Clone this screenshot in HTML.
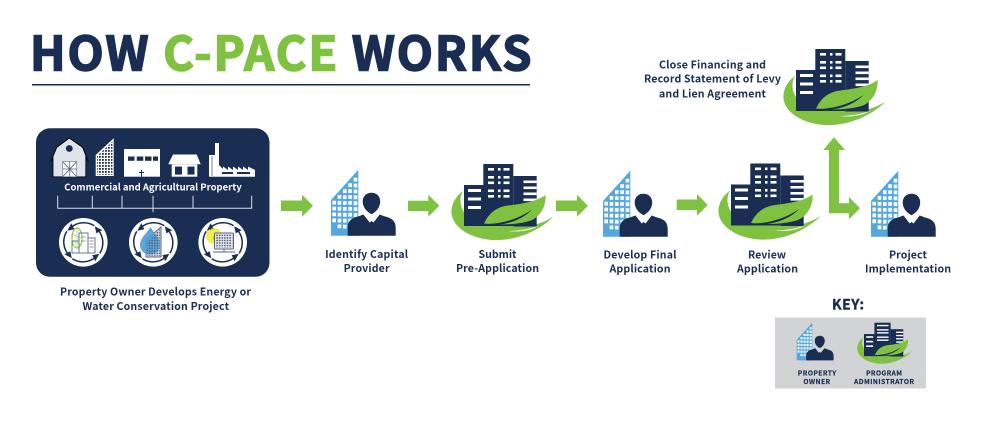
<!DOCTYPE html>
<html lang="en">
<head>
<meta charset="utf-8">
<title>How C-PACE Works</title>
<style>
html,body{margin:0;padding:0;background:#fff;width:993px;height:432px;overflow:hidden}
svg{display:block}
text{font-family:"Noto Sans CJK JP","Liberation Sans",sans-serif;font-weight:700;fill:#1a2d52;text-anchor:middle}
</style>
</head>
<body>
<svg width="993" height="432" viewBox="0 0 993 432" xmlns="http://www.w3.org/2000/svg">
<defs>
  <pattern id="sky" x="96" y="138" width="3" height="3" patternUnits="userSpaceOnUse">
    <rect width="1.8" height="1.8" fill="#1a2d52"/>
  </pattern>
  <pattern id="panel" x="0" y="0" width="2.6" height="2.6" patternUnits="userSpaceOnUse">
    <circle cx="1.3" cy="1.3" r="0.9" fill="#59657f"/>
  </pattern>

  <g id="owner">
    <polygon points="331,200 358.3,169.7 358.3,235.7 331,235.7" fill="#55a7de"/>
    <g fill="none" stroke="#fff" stroke-width="3.6" stroke-dasharray="3.8 2.1">
      <path d="M334.2,200.7 V223"/>
      <path d="M339.5,195 V229"/>
      <path d="M344.8,189.3 V229"/>
      <path d="M350.1,183.3 V229"/>
      <path d="M355.5,177.7 V229"/>
    </g>
    <path d="M347.7,235.7 V228 C347.7,220.5 352,218 358,216.5 L363.5,214.5 L369.7,222.5 L371.6,221 L373.5,222.5 L379.7,214.5 L385,216.5 C391.5,218 395.7,220.5 395.7,228 V235.7Z" fill="#1a2d52"/>
    <path d="M371.5,214.2 C366,211.5 362.7,206.5 362.7,201.5 C362.7,196 366.5,192.7 371.5,192.7 C376.5,192.7 380.2,196 380.2,201.5 C380.2,206.5 377,211.5 371.5,214.2Z" fill="#1a2d52"/>
  </g>

  <g id="admin">
    <path d="M463,191 C453,198 449,210 453,219 C459,233 480,241 500,240 C520,239 540,230 553.5,216.5 C546,221 540,224 530,225.5 L490,226 C478,224 467,218 464,212 C460,206 459,198 463,191Z" fill="#7fc241"/>
    <rect x="464" y="185" width="20" height="41" fill="#1a2d52"/>
    <rect x="483.3" y="164" width="30" height="62" fill="#1a2d52"/>
    <rect x="513.3" y="176" width="23.4" height="50.5" fill="#1a2d52"/>
    <g fill="#fff">
      <rect x="468" y="189" width="13" height="3"/><rect x="468" y="197.5" width="13" height="3"/><rect x="468" y="206" width="13" height="3"/>
      <rect x="523.5" y="180.5" width="13.2" height="2.6"/><rect x="523.5" y="186.5" width="13.2" height="2.6"/><rect x="523.5" y="192.5" width="13.2" height="2.6"/><rect x="523.5" y="198.5" width="13.2" height="2.6"/>
      <rect x="488" y="168" width="6" height="2.6"/><rect x="498" y="168" width="2.5" height="2.6"/><rect x="503.5" y="168" width="6" height="2.6"/>
      <rect x="488" y="176" width="6" height="2.6"/><rect x="498" y="176" width="2.5" height="2.6"/><rect x="503.5" y="176" width="6" height="2.6"/>
      <rect x="488" y="181.5" width="6" height="2.6"/><rect x="498" y="181.5" width="2.5" height="2.6"/><rect x="503.5" y="181.5" width="6" height="2.6"/>
      <rect x="488" y="189.5" width="6" height="2.6"/><rect x="498" y="189.5" width="2.5" height="2.6"/><rect x="503.5" y="189.5" width="6" height="2.6"/>
      <rect x="488" y="195" width="6" height="2.6"/><rect x="498" y="195" width="2.5" height="2.6"/><rect x="503.5" y="195" width="6" height="2.6"/>
    </g>
    <path d="M484,223.5 C489,213 496,208 505,206 C518,204 534,203 545.7,195 C546,206 541,216 531,220.5 C517,225 499,225 484,223.5Z" fill="#7fc241"/>
    <path d="M485,224 C503,224 520,218 532,209.5 C521,221 503,226.5 485,224.5Z" fill="#1a2d52"/>
    <path d="M508,231 C519,231 530,229 539,225.5 C532,230 520,232.5 508,231Z" fill="#fff"/>
  </g>

  <g id="cycle">
    <circle r="24.3" fill="#fff"/>
    <g fill="none" stroke="#1a2d52" stroke-width="1.5">
      <path d="M-12,-15 A19.5,19.5 0 0 1 11,-16.5"/>
      <path d="M15,-12 A19.5,19.5 0 0 1 16.5,11"/>
      <path d="M12,15 A19.5,19.5 0 0 1 -11,16.5"/>
      <path d="M-15,12 A19.5,19.5 0 0 1 -16.5,-11"/>
    </g>
    <g fill="#1a2d52">
      <polygon points="-16,-11.5 -9,-13 -12,-19"/>
      <polygon points="11.5,-16 13,-9 19,-12"/>
      <polygon points="16,11.5 9,13 12,19"/>
      <polygon points="-11.5,16 -13,9 -19,12"/>
    </g>
  </g>
</defs>

<rect width="993" height="432" fill="#fff"/>

<!-- Title -->
<text x="30" y="70.5" font-size="47" textLength="501.5" stroke="#1a2d52" stroke-width="1.6" style="text-anchor:start">HOW <tspan stroke="#7fc241" style="fill:#7fc241">C-PACE</tspan> WORKS</text>
<rect x="32" y="84" width="498" height="1.5" fill="#1a2d52"/>

<!-- Dark panel -->
<rect x="36" y="128.3" width="233.5" height="148.5" rx="14" fill="#1a2d52"/>

<!-- Barn -->
<path d="M50.7,161.7 L56.7,147.3 L69.3,138 L82.7,147.3 L88.3,161.7 L85.7,156 V176.7 H53 V156Z" fill="#dfe3ea" stroke="#000" stroke-width="1"/>
<rect x="53.4" y="156" width="31.9" height="20.4" fill="#dfe3ea"/>
<circle cx="69.3" cy="148.5" r="3.4" fill="#1a2d52"/>
<rect x="62.7" y="161.7" width="14" height="15" fill="#fff" stroke="#77819a" stroke-width="0.7"/>
<path d="M62.7,161.7 L76.7,176.7 M76.7,161.7 L62.7,176.7 M69.7,161.7 V176.7 M62.7,169 H76.7" stroke="#59657f" stroke-width="0.8"/>

<!-- Skyscraper -->
<polygon points="95.7,155 113.7,138.3 113.7,176 95.7,176" fill="#fff"/>
<polygon points="97,156 112.4,141.5 112.4,174.8 97,174.8" fill="url(#sky)"/>

<!-- Warehouse -->
<rect x="124" y="149" width="36" height="27.7" fill="#fff"/>
<g fill="#1a2d52">
  <rect x="128" y="156.5" width="6.5" height="4.3"/><rect x="136.8" y="156.5" width="6.5" height="4.3"/><rect x="145" y="156.5" width="6.5" height="4.3"/><rect x="153" y="156.5" width="5" height="4.3"/>
  <rect x="141" y="170" width="1" height="6.7"/><rect x="139" y="172" width="5" height="1"/>
</g>

<!-- Shop -->
<polygon points="173,154.5 196.7,154.5 200.7,164.3 168.3,164.3" fill="#fff"/>
<rect x="171.7" y="164.3" width="25.6" height="12.4" fill="#fff"/>
<rect x="175" y="166.6" width="7" height="8" fill="#1a2d52"/><rect x="187.5" y="166.6" width="7" height="8" fill="#1a2d52"/>

<!-- Factory -->
<path d="M209,176.7 V155 H215 V143 H219 V165 L223,169 V166.5 L228,170 V166.5 L233,170 V166.5 L238,170 V166.5 L243,170 V166.5 L248,170 V166.5 L255,170 V176.7Z" fill="#fff"/>
<rect x="222" y="172" width="11" height="2" fill="#1a2d52"/><rect x="237" y="172" width="13" height="2" fill="#1a2d52"/>
<path d="M212,156 V176" stroke="#1a2d52" stroke-width="0.6"/>

<!-- Panel heading and bracket -->
<text x="153" y="190.7" font-size="9.5" textLength="177.5" style="fill:#fff">Commercial and Agricultural Property</text>
<path d="M57.7,195.7 V208.3 H251.7 V195.7 M92.3,195.7 V208.3 M122,195.7 V208.3 M153,195.7 V212.3 M193,195.7 V208.3" fill="none" stroke="#d8dde5" stroke-width="1"/>

<!-- Circles -->
<use href="#cycle" x="83.3" y="242.3"/>
<use href="#cycle" x="153.3" y="242.3"/>
<use href="#cycle" x="222.7" y="242.3"/>

<!-- Circle 1 content -->
<ellipse cx="77" cy="238" rx="5" ry="10" fill="none" stroke="#8cc63f" stroke-width="1.2"/>
<path d="M77,228 V248 M72,234 L82,239 M72,241 L82,245" stroke="#8cc63f" stroke-width="0.6"/>
<g fill="#fff" fill-opacity="0.15" stroke="#6a7590" stroke-width="1">
  <rect x="72" y="241" width="7" height="12"/><rect x="79" y="233" width="9" height="20"/><rect x="88" y="238" width="7" height="15"/>
</g>
<path d="M89.5,241 H93.5 M89.5,244 H93.5 M89.5,247 H93.5 M81,237 H85.5 M81,241 H85.5" stroke="#6a7590" stroke-width="0.8"/>

<!-- Circle 2 content -->
<polygon points="146,240 161,227 161,257 146,257" fill="#d5d8df" stroke="#59657f" stroke-width="1"/>
<polygon points="147,241 160,229 160,256 147,256" fill="url(#panel)"/>
<path d="M150.5,227 C147,233 140,238 140,245 C140,251 145,254.5 150,254.5 C155,254.5 160,251 160,245 C160,238 154,233 150.5,227Z" fill="#4a9fd8" fill-opacity="0.9"/>
<path d="M147,242 L159,231 V247 C159,251 155,254 150,254 H147Z" fill="url(#panel)"/>

<!-- Circle 3 content -->
<circle cx="214" cy="236" r="7" fill="#f2ee4d" stroke="#e8e33a" stroke-width="2" stroke-dasharray="1.5 1"/>
<circle cx="216" cy="238" r="3.5" fill="#d9c72a"/>
<rect x="214.5" y="233" width="19" height="16" rx="1" fill="#e5e7ec" fill-opacity="0.85" stroke="#59657f" stroke-width="1"/>
<rect x="215.5" y="234" width="17" height="14" fill="url(#panel)"/>
<path d="M213,252 H235 M224,249 V252" stroke="#59657f" stroke-width="1"/>

<text x="155.5" y="295.7" font-size="10.6" textLength="191">Property Owner Develops Energy or</text>
<text x="155.8" y="310" font-size="10.6" textLength="146.5">Water Conservation Project</text>

<!-- Arrows -->
<g fill="#7fc241">
  <polygon points="281,200.5 302,200.5 302,194.7 313,205.7 302,216.7 302,211 281,211"/>
  <polygon points="408,200.7 428.3,200.7 428.3,194.7 439.3,205.7 428.3,216.7 428.3,211 408,211"/>
  <polygon points="556,200.5 577,200.5 577,194.7 588,205.7 577,216.7 577,211 556,211"/>
  <polygon points="676.7,199.5 697,199.5 697,194 707.7,205 697,215.7 697,210 676.7,210"/>
  <polygon points="834,137.3 845,150 839,150 839,203.3 849,203.3 849,197 860,208.2 849,219.3 849,213.3 829,213.3 829,150 823.3,150"/>
</g>

<!-- Process icons -->
<use href="#owner"/>
<use href="#admin"/>
<use href="#owner" x="272" y="1"/>
<use href="#admin" x="267" y="-0.5"/>
<use href="#owner" x="540" y="1"/>
<use href="#admin" x="332" y="-115"/>

<!-- Process labels -->
<text x="366.6" y="258" font-size="10.6" textLength="83">Identify Capital</text>
<text x="366.6" y="272" font-size="10.6" textLength="46">Provider</text>
<text x="497.5" y="258" font-size="10.6" textLength="38">Submit</text>
<text x="497.5" y="272" font-size="10.6" textLength="83">Pre-Application</text>
<text x="640" y="258.5" font-size="10.6" textLength="73">Develop Final</text>
<text x="640" y="272.5" font-size="10.6" textLength="61">Application</text>
<text x="767" y="258.5" font-size="10.6" textLength="38">Review</text>
<text x="767.5" y="272.5" font-size="10.6" textLength="61">Application</text>
<text x="908" y="258.5" font-size="10.6" textLength="38">Project</text>
<text x="908" y="272.5" font-size="10.6" textLength="86">Implementation</text>
<text x="712.5" y="68.3" font-size="10.6" textLength="107">Close Financing and</text>
<text x="712.5" y="82.7" font-size="10.6" textLength="137">Record Statement of Levy</text>
<text x="712.5" y="97.3" font-size="10.6" textLength="107">and Lien Agreement</text>

<!-- Key -->
<text x="848" y="309.5" font-size="14" textLength="32" stroke="#1a2d52" stroke-width="0.4">KEY:</text>
<rect x="775" y="317.5" width="151" height="71" fill="#d1d3d4"/>
<g transform="translate(796.7,322.7) scale(0.57) translate(-331,-169.7)">
  <polygon points="331,200 358.3,169.7 358.3,235.7 331,235.7" fill="#55a7de"/>
  <g fill="none" stroke="#fff" stroke-width="3.6" stroke-dasharray="3.8 2.1">
    <path d="M334.2,200.7 V223"/>
    <path d="M339.5,195 V229"/>
    <path d="M344.8,189.3 V229"/>
    <path d="M350.1,183.3 V229"/>
    <path d="M355.5,177.7 V229"/>
  </g>
  <path d="M347.7,235.7 V228 C347.7,220.5 352,218 358,216.5 L363.5,214.5 L369.7,222.5 L371.6,221 L373.5,222.5 L379.7,214.5 L385,216.5 C391.5,218 395.7,220.5 395.7,228 V235.7Z" fill="#1a2d52"/>
  <path d="M371.5,214.2 C366,211.5 362.7,206.5 362.7,201.5 C362.7,196 366.5,192.7 371.5,192.7 C376.5,192.7 380.2,196 380.2,201.5 C380.2,206.5 377,211.5 371.5,214.2Z" fill="#1a2d52"/>
</g>
<g transform="translate(864,322.7) scale(0.54) translate(-464,-164)">
  <path d="M463,191 C453,198 449,210 453,219 C459,233 480,241 500,240 C520,239 540,230 553.5,216.5 C546,221 540,224 530,225.5 L490,226 C478,224 467,218 464,212 C460,206 459,198 463,191Z" fill="#7fc241"/>
  <rect x="464" y="185" width="20" height="41" fill="#1a2d52"/>
  <rect x="483.3" y="164" width="30" height="62" fill="#1a2d52"/>
  <rect x="513.3" y="176" width="23.4" height="50.5" fill="#1a2d52"/>
  <g fill="#fff">
    <rect x="468" y="189" width="13" height="3"/><rect x="468" y="197.5" width="13" height="3"/><rect x="468" y="206" width="13" height="3"/>
    <rect x="523.5" y="180.5" width="13.2" height="2.6"/><rect x="523.5" y="186.5" width="13.2" height="2.6"/><rect x="523.5" y="192.5" width="13.2" height="2.6"/><rect x="523.5" y="198.5" width="13.2" height="2.6"/>
    <rect x="488" y="168" width="21.5" height="2.6"/><rect x="488" y="176" width="21.5" height="2.6"/><rect x="488" y="181.5" width="21.5" height="2.6"/><rect x="488" y="189.5" width="21.5" height="2.6"/><rect x="488" y="195" width="21.5" height="2.6"/>
  </g>
  <path d="M484,223.5 C489,213 496,208 505,206 C518,204 534,203 545.7,195 C546,206 541,216 531,220.5 C517,225 499,225 484,223.5Z" fill="#7fc241"/>
  <path d="M485,224 C503,224 520,218 532,209.5 C521,221 503,226.5 485,224.5Z" fill="#1a2d52"/>
</g>
<text x="817" y="375.7" font-size="6.8" textLength="38.5" stroke="#1a2d52" stroke-width="0.15">PROPERTY</text>
<text x="816.7" y="384.2" font-size="6.8" textLength="27" stroke="#1a2d52" stroke-width="0.15">OWNER</text>
<text x="884" y="375.7" font-size="6.8" textLength="36" stroke="#1a2d52" stroke-width="0.15">PROGRAM</text>
<text x="884" y="384.2" font-size="6.8" textLength="60" stroke="#1a2d52" stroke-width="0.15">ADMINISTRATOR</text>
</svg>
</body>
</html>
